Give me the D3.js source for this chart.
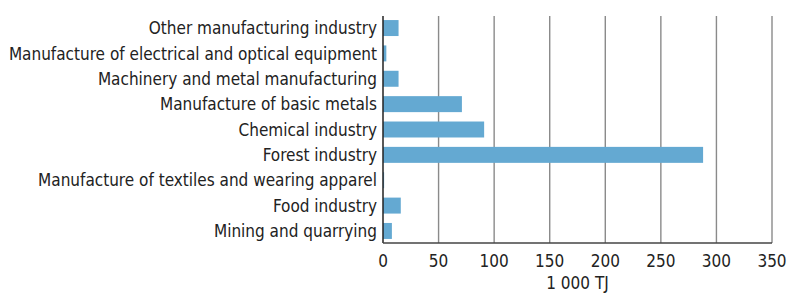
<!DOCTYPE html>
<html>
<head>
<meta charset="utf-8">
<script src="https://cdn.jsdelivr.net/npm/d3@7"></script>
<style>
  body { margin: 0; background: #fff; }
  text { font-family: "Liberation Sans Narrow", "DejaVu Sans Condensed", sans-serif; fill: #222; }
</style>
</head>
<body>
<script>
// categories, top to bottom
var industries = [
  "Other manufacturing industry",
  "Manufacture of electrical and optical equipment",
  "Machinery and metal manufacturing",
  "Manufacture of basic metals",
  "Chemical industry",
  "Forest industry",
  "Manufacture of textiles and wearing apparel",
  "Food industry",
  "Mining and quarrying"
];
var energy = [14, 3, 14, 71, 91, 288, 1, 16, 8];
var xTicks = [0, 50, 100, 150, 200, 250, 300, 350];
var xTitle = "1 000 TJ";

var width = 789, height = 293;
var margin = { top: 16, right: 17, bottom: 50, left: 383 };

var svg = d3.select("body").append("svg").attr("width", width).attr("height", height);

var x = d3.scaleLinear().domain([0, 350]).range([margin.left, width - margin.right]);
var y = d3.scaleBand().domain(industries).range([margin.top, height - margin.bottom])
  .paddingInner(0.37).paddingOuter(0.16);

// grid lines
svg.append("g").selectAll("line").data(xTicks.slice(1)).enter().append("line")
  .attr("x1", function (d) { return x(d); }).attr("x2", function (d) { return x(d); })
  .attr("y1", margin.top).attr("y2", height - margin.bottom)
  .attr("stroke", "#8a8a8a").attr("stroke-width", 1.4);

// bars
var data = industries.map(function (d, i) { return { name: d, value: energy[i] }; });
svg.append("g").selectAll("rect").data(data).enter().append("rect")
  .attr("x", x(0)).attr("y", function (d) { return y(d.name); })
  .attr("width", function (d) { return Math.max(x(d.value) - x(0), 1); })
  .attr("height", y.bandwidth())
  .attr("fill", "#64a9d2");

// axes lines
svg.append("line").attr("x1", x(0)).attr("x2", x(0)).attr("y1", margin.top).attr("y2", height - margin.bottom)
  .attr("stroke", "#222").attr("stroke-width", 1.5);
svg.append("line").attr("x1", x(0)).attr("x2", x(350)).attr("y1", height - margin.bottom).attr("y2", height - margin.bottom)
  .attr("stroke", "#444").attr("stroke-width", 1.5);

// x tick labels
svg.append("g").selectAll("text").data(xTicks).enter().append("text")
  .attr("x", function (d) { return x(d); }).attr("y", 267)
  .attr("text-anchor", "middle").style("font-size", "17px")
  .text(function (d) { return d; });

svg.append("text").attr("x", x(175)).attr("y", 289).attr("text-anchor", "middle")
  .style("font-size", "17px").text(xTitle);

// category labels
svg.append("g").selectAll("text").data(industries).enter().append("text")
  .attr("x", x(0) - 6).attr("y", function (d) { return y(d) + y.bandwidth() / 2; })
  .attr("dy", "0.36em").attr("text-anchor", "end").style("font-size", "17px")
  .text(function (d) { return d; });
</script>
</body>
</html>
